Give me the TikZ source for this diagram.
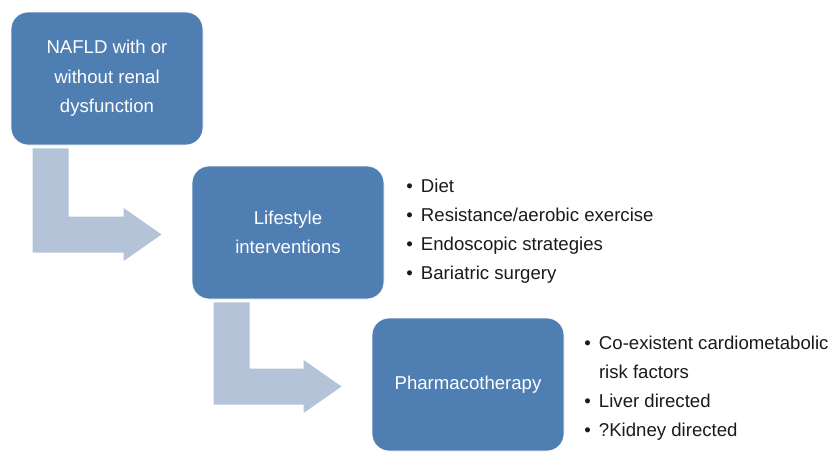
\documentclass[tikz,border=0pt]{standalone}
\usepackage{fontspec}
\setmainfont{Liberation Sans}
\usetikzlibrary{calc}

\definecolor{boxblue}{RGB}{79,126,178}
\definecolor{arrowgrey}{RGB}{180,195,216}
\definecolor{listtext}{RGB}{26,26,26}

\newcommand{\bitem}{\strut\makebox[7.3pt][l]{\textbullet}}

\tikzset{
  stage/.style={fill=boxblue, draw=white, line width=0.4pt, rounded corners=8.5pt,
    minimum width=96pt, minimum height=66.5pt, inner sep=2pt, align=center,
    text=white, font=\fontsize{9.3}{14.7}\selectfont},
  bullets/.style={anchor=west, inner sep=0pt, align=left, text=listtext,
    font=\fontsize{9.3}{14.5}\selectfont},
  flowarrow/.style={fill=arrowgrey}
}

\begin{document}
\begin{tikzpicture}[x=0.5pt,y=-0.5pt]

            %\draw [help lines, step=20] (0,0) grid (832,451);
            \useasboundingbox (0,0) rectangle (832,451);

            \path   (107,78.5)  node (naf) [stage] {NAFLD with or\\without renal\\dysfunction}
                    (288,232.5) node (life) [stage] {Lifestyle\\interventions}
                    (468,384.5) node (pharm) [stage] {Pharmacotherapy};

            \path   (406,230) node (lifelist) [bullets] {\bitem Diet\\
                                                          \bitem Resistance/aerobic exercise\\
                                                          \bitem Endoscopic strategies\\
                                                          \bitem Bariatric surgery\strut}
                    (584,387) node (pharmlist) [bullets] {\bitem Co-existent cardiometabolic\\
                                                          \strut\hspace*{7.3pt}risk factors\\
                                                          \bitem Liver directed\\
                                                          \bitem ?Kidney directed\strut};

            \foreach \from/\to in {naf/life, life/pharm}
                \fill [flowarrow] let \p1 = ([shift={(22,3)}]\from.south west),
                                      \p2 = ([shift={(-30,2)}]\to.west) in
                    (\x1,\y1) -- (\x1+18pt,\y1) -- (\x1+18pt,\y2+9pt) -- (\x2-19pt,\y2+9pt)
                    -- (\x2-19pt,\y2+13.25pt) -- (\x2,\y2) -- (\x2-19pt,\y2-13.25pt)
                    -- (\x2-19pt,\y2-9pt) -- (\x1,\y2-9pt) -- cycle;

\end{tikzpicture}
\end{document}
